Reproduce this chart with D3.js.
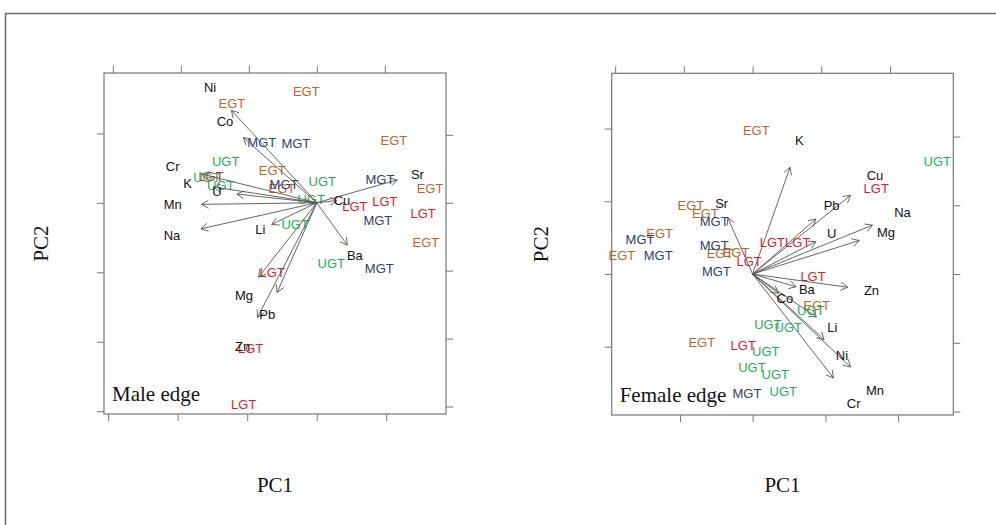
<!DOCTYPE html>
<html>
<head>
<meta charset="utf-8">
<script src="https://cdn.jsdelivr.net/npm/d3@7"></script>
<style>
	body { margin:0; background:#fff; }
	svg { display:block; }
	.lbl { font-family:"Liberation Sans", Arial, sans-serif; font-size:13px; }
	.ttl { font-family:"Liberation Serif", "Times New Roman", serif; }
	.tick line { stroke:#777; }
</style>
</head>
<body>
<svg id="chart" width="996" height="525"></svg>
<script>
'use strict';

// group colours for the score labels
const groupColor = { EGT:"#C4622D", MGT:"#2E406F", LGT:"#E8161F", UGT:"#1BAF55" };

// male edge: observation scores [group, PC1, PC2]
const maleScores = [
	["EGT",-0.15,1.61], ["EGT",-1.22,1.43], ["EGT",1.11,0.90], ["EGT",-0.64,0.47],
	["EGT",-0.50,0.21], ["EGT",1.63,0.21], ["EGT",1.57,-0.57],
	["MGT",-0.79,0.87], ["MGT",-0.30,0.86], ["MGT",-0.47,0.27], ["MGT",0.91,0.34],
	["MGT",0.88,-0.25], ["MGT",0.90,-0.94],
	["LGT",-1.52,0.38], ["LGT",0.55,-0.05], ["LGT",0.98,0.02], ["LGT",1.53,-0.16],
	["LGT",-0.64,-1.00], ["LGT",-0.95,-2.10], ["LGT",-1.05,-2.90],
	["UGT",-1.31,0.59], ["UGT",-1.58,0.37], ["UGT",-1.38,0.25], ["UGT",0.08,0.31],
	["UGT",-0.08,0.05], ["UGT",-0.31,-0.31], ["UGT",0.21,-0.88]
];

// male edge: variable loadings [element, PC1, PC2]
const maleLoadings = [
	["Ni",-1.57,1.70], ["Co",-1.35,1.20], ["Cr",-2.12,0.53], ["K",-1.90,0.29],
	["U",-1.47,0.16], ["Mn",-2.12,-0.03], ["Na",-2.13,-0.48], ["Li",-0.83,-0.40],
	["Cu",0.37,0.04], ["Sr",1.48,0.42], ["Ba",0.56,-0.78], ["Mg",-1.07,-1.37],
	["Pb",-0.73,-1.65], ["Zn",-1.09,-2.11]
];

// female edge: observation scores
const femaleScores = [
	["EGT",0.05,1.97], ["EGT",-0.85,0.94], ["EGT",-0.65,0.83], ["EGT",-1.28,0.56],
	["EGT",-1.80,0.26], ["EGT",-0.45,0.28], ["EGT",-0.23,0.30], ["EGT",0.88,-0.44],
	["EGT",-0.70,-0.94],
	["MGT",-0.53,0.72], ["MGT",-1.55,0.48], ["MGT",-1.30,0.25], ["MGT",-0.53,0.39],
	["MGT",-0.50,0.03], ["MGT",-0.08,-1.65],
	["LGT",1.70,1.17], ["LGT",-0.05,0.17], ["LGT",0.27,0.43], ["LGT",0.62,0.43],
	["LGT",0.83,-0.03], ["LGT",-0.13,-0.98],
	["UGT",2.54,1.54], ["UGT",0.80,-0.50], ["UGT",0.21,-0.69], ["UGT",0.49,-0.74],
	["UGT",0.18,-1.06], ["UGT",-0.01,-1.28], ["UGT",0.31,-1.38], ["UGT",0.42,-1.62]
];

// female edge: variable loadings
const femaleLoadings = [
	["K",0.68,1.94], ["Cu",1.78,1.43], ["Pb",1.15,1.00], ["Na",2.18,0.89],
	["U",1.15,0.59], ["Mg",1.94,0.61], ["Sr",-0.45,1.02], ["Ba",0.79,-0.23],
	["Zn",1.73,-0.24], ["Co",0.47,-0.35], ["Li",1.16,-0.78], ["Ni",1.30,-1.19],
	["Mn",1.78,-1.69], ["Cr",1.47,-1.89]
];

// axis limits and ticks (scores: bottom/left, loadings: top/right)
const maleScoreLimX = [-3.06, 1.86], maleScoreLimY = [-3.04, 1.87];
const maleLoadLimX = [-3.13, 1.90], maleLoadLimY = [-3.11, 1.91];
const maleScoreTicks = [-3,-2,-1,0,1], maleLoadTicks = [-3,-2,-1,0,1];

const femaleScoreLimX = [-1.94, 2.76], femaleScoreLimY = [-1.94, 2.76];
const femaleLoadLimX = [-2.05, 2.92], femaleLoadLimY = [-2.05, 2.92];
const femaleScoreTicks = [-1,0,1,2], femaleLoadTicks = [-2,-1,0,1,2];

const svg = d3.select("#chart");

// outer frame
svg.append("rect")
	.attr("x", 5.5).attr("y", 13.5)
	.attr("width", 1100).attr("height", 700)
	.attr("fill", "none").attr("stroke", "#6a6a6a").attr("stroke-width", 1.5);

function drawPanel(box, title, scores, loadings, sLimX, sLimY, lLimX, lLimY, sTicks, lTicks, pc2x) {
	var g = svg.append("g");

	var sx = d3.scaleLinear().domain(sLimX).range([box.x0, box.x1]);
	var sy = d3.scaleLinear().domain(sLimY).range([box.y1, box.y0]);
	var lx = d3.scaleLinear().domain(lLimX).range([box.x0, box.x1]);
	var ly = d3.scaleLinear().domain(lLimY).range([box.y1, box.y0]);

	var axes = [
		[d3.axisBottom(sx).tickValues(sTicks), `translate(0,${box.y1})`],
		[d3.axisLeft(sy).tickValues(sTicks.filter(v => v >= sLimY[0] && v <= sLimY[1])), `translate(${box.x0},0)`],
		[d3.axisTop(lx).tickValues(lTicks), `translate(0,${box.y0})`],
		[d3.axisRight(ly).tickValues(lTicks), `translate(${box.x1},0)`]
	];
	axes.forEach(a => {
		var ax = g.append("g").attr("transform", a[1])
				  .call(a[0].tickFormat("").tickSize(7).tickSizeOuter(0));
		ax.select(".domain").remove();
	});

	g.append("rect")
		.attr("x", box.x0).attr("y", box.y0)
		.attr("width", box.x1 - box.x0).attr("height", box.y1 - box.y0)
		.attr("fill", "none").attr("stroke", "#777").attr("stroke-width", 1.2);

	// observation labels
	g.append("g").selectAll("text")
		.data(scores).join("text")
		.attr("class", "lbl")
		.attr("x", d => sx(d[1])).attr("y", d => sy(d[2]))
		.attr("text-anchor", "middle").attr("dominant-baseline", "central")
		.attr("fill", d => groupColor[d[0]])
		.text(d => d[0]);

	// loading arrows, drawn to 80% of the label position as in biplot()
	var ox = lx(0), oy = ly(0), head = 8, ang = Math.PI / 6;
	var arr = g.append("g").attr("stroke", "#555").attr("stroke-width", 0.9).attr("fill", "none");
	loadings.forEach(d => {
		var tx = lx(d[1] * 0.8), ty = ly(d[2] * 0.8);
		var a = Math.atan2(ty - oy, tx - ox);
		arr.append("line").attr("x1", ox).attr("y1", oy).attr("x2", tx).attr("y2", ty);
		arr.append("path").attr("d",
			`M${tx - head*Math.cos(a - ang)},${ty - head*Math.sin(a - ang)}L${tx},${ty}L${tx - head*Math.cos(a + ang)},${ty - head*Math.sin(a + ang)}`);
	});

	g.append("g").selectAll("text")
		.data(loadings).join("text")
		.attr("class", "lbl")
		.attr("x", d => lx(d[1])).attr("y", d => ly(d[2]))
		.attr("text-anchor", "middle").attr("dominant-baseline", "central")
		.attr("fill", "#111")
		.text(d => d[0]);

	// panel title and axis titles
	g.append("text").attr("class", "ttl")
		.attr("x", box.x0 + 8).attr("y", box.y1 - 13)
		.attr("font-size", 21).attr("fill", "#111")
		.text(title);

	g.append("text").attr("class", "ttl")
		.attr("x", (box.x0 + box.x1) / 2).attr("y", 492)
		.attr("text-anchor", "middle").attr("font-size", 21).attr("fill", "#111")
		.text("PC1");

	g.append("text").attr("class", "ttl")
		.attr("transform", `translate(${pc2x},${(box.y0 + box.y1) / 2}) rotate(-90)`)
		.attr("text-anchor", "middle").attr("font-size", 21).attr("fill", "#111")
		.text("PC2");
}

drawPanel({ x0:104, x1:446, y0:73, y1:414 }, "Male edge",
	maleScores, maleLoadings, maleScoreLimX, maleScoreLimY, maleLoadLimX, maleLoadLimY,
	maleScoreTicks, maleLoadTicks, 48);

drawPanel({ x0:611.7, x1:953.3, y0:73.3, y1:415 }, "Female edge",
	femaleScores, femaleLoadings, femaleScoreLimX, femaleScoreLimY, femaleLoadLimX, femaleLoadLimY,
	femaleScoreTicks, femaleLoadTicks, 548);
</script>
</body>
</html>
